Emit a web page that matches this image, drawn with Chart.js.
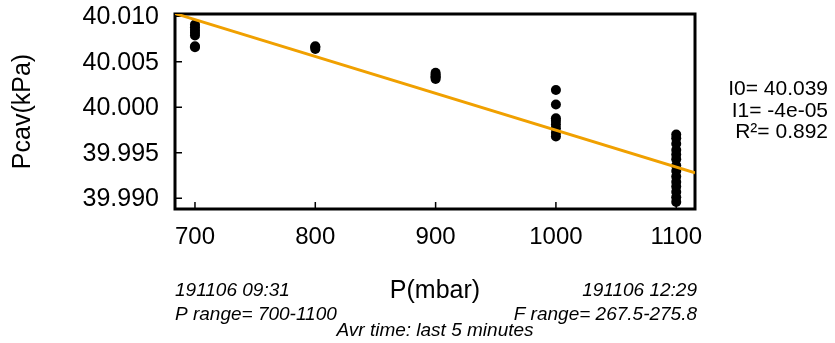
<!DOCTYPE html>
<html><head><meta charset="utf-8">
<script src="https://cdn.jsdelivr.net/npm/chart.js@4"></script>
<style>html,body{margin:0;padding:0;background:#fff}#wrap{width:835px;height:343px}</style>
</head><body><div id="wrap"><canvas id="c" width="835" height="343"></canvas></div>
<script>
// ---- data ----
const pressures = [700, 800, 900, 1000, 1100];
const pcav700 = [40.0091, 40.0088, 40.0085, 40.0082, 40.0079, 40.0067, 40.0066];
const pcav800 = [40.0067, 40.0066, 40.0064];
const pcav900 = [40.0038, 40.0036, 40.0034, 40.0033, 40.0031];
const pcav1000 = [40.0019, 40.0003, 39.9988, 39.9985, 39.9981, 39.9977, 39.9972, 39.9968];
const pcav1100 = [39.9970, 39.9966, 39.9960, 39.9953, 39.9948, 39.9943, 39.9936, 39.9930, 39.9924, 39.9918, 39.9913, 39.9907, 39.9901, 39.9896];
const fitP = [683.4, 1115.6];
const fitPcav = [40.0103, 39.9928];
const xTickValues = [700, 800, 900, 1000, 1100];
const xTickLabels = ['700', '800', '900', '1000', '1100'];
const yTickValues = [39.990, 39.995, 40.000, 40.005, 40.010];
const yTickLabels = ['39.990', '39.995', '40.000', '40.005', '40.010'];
const xTitle = 'P(mbar)';
const yTitle = 'Pcav(kPa)';
const statLines = ['I0= 40.039', 'I1= -4e-05', 'R\u00B2= 0.892'];
const noteLeft = ['191106 09:31', 'P range= 700-1100'];
const noteRight = ['191106 12:29', 'F range= 267.5-275.8'];
const noteCenter = 'Avr time: last 5 minutes';

// ---- build ----
const FONT = "'Liberation Sans', Arial, sans-serif";
const groups = [pcav700, pcav800, pcav900, pcav1000, pcav1100];
const points = [];
groups.forEach((g, i) => g.forEach(v => points.push({x: pressures[i], y: v})));
const fitLine = fitP.map((p, i) => ({x: p, y: fitPcav[i]}));

const framePlugin = {
  id: 'frame',
  beforeDatasetsDraw(chart) {
    const {ctx, chartArea: a, scales: {x, y}} = chart;
    ctx.save();
    ctx.strokeStyle = '#000';
    ctx.lineWidth = 1.5;
    ctx.beginPath();
    x.ticks.forEach(t => { const px = x.getPixelForValue(t.value); ctx.moveTo(px, a.bottom); ctx.lineTo(px, a.bottom - 7); });
    y.ticks.forEach(t => { const py = y.getPixelForValue(t.value); ctx.moveTo(a.left, py); ctx.lineTo(a.left + 7, py); });
    ctx.stroke();
    ctx.lineWidth = 3;
    ctx.strokeRect(a.left, a.top, a.right - a.left, a.bottom - a.top);
    ctx.restore();
  },
  afterDraw(chart) {
    const {ctx, chartArea: a} = chart;
    ctx.save();
    ctx.fillStyle = '#000';
    ctx.textBaseline = 'alphabetic';
    ctx.font = 'italic 19px ' + FONT;
    ctx.textAlign = 'left';
    ctx.fillText(noteLeft[0], a.left, 296);
    ctx.fillText(noteLeft[1], a.left, 320);
    ctx.textAlign = 'right';
    ctx.fillText(noteRight[0], a.right + 2, 296);
    ctx.fillText(noteRight[1], a.right + 2, 320);
    ctx.textAlign = 'center';
    ctx.fillText(noteCenter, (a.left + a.right) / 2, 336);
    ctx.font = '21px ' + FONT;
    ctx.textAlign = 'right';
    statLines.forEach((s, i) => ctx.fillText(s, 828, 95 + i * 21.5));
    ctx.restore();
  }
};

new Chart(document.getElementById('c'), {
  type: 'scatter',
  data: {
    datasets: [
      {type: 'line', data: fitLine, borderColor: '#F0A000', borderWidth: 3, pointRadius: 0, fill: false, order: 0},
      {type: 'scatter', data: points, backgroundColor: '#000', borderColor: '#000', borderWidth: 0, pointRadius: 5, order: 1}
    ]
  },
  options: {
    responsive: false,
    animation: false,
    devicePixelRatio: 1,
    layout: {padding: {left: 0, right: 140, top: 14, bottom: 0}},
    plugins: {legend: {display: false}, tooltip: {enabled: false}},
    scales: {
      x: {
        type: 'linear', min: 683.4, max: 1115.6,
        grid: {display: false, drawTicks: false},
        border: {display: false},
        afterBuildTicks: s => { s.ticks = xTickValues.map(v => ({value: v})); },
        afterFit: s => { s.height = 134; s.paddingLeft = 0; s.paddingRight = 0; },
        ticks: {font: {family: FONT, size: 24}, color: '#000', padding: 14, maxRotation: 0, autoSkip: false,
                callback: (v, i) => xTickLabels[i]},
        title: {display: true, text: xTitle, color: '#000', font: {family: FONT, size: 25}, padding: {top: 0, bottom: 37}}
      },
      y: {
        type: 'linear', min: 39.98882, max: 40.01025,
        grid: {display: false, drawTicks: false},
        border: {display: false},
        afterBuildTicks: s => { s.ticks = yTickValues.map(v => ({value: v})); },
        afterFit: s => { s.width = 175; s.paddingTop = 0; s.paddingBottom = 0; },
        ticks: {font: {family: FONT, size: 25}, color: '#000', padding: 16, labelOffset: 1, autoSkip: false,
                callback: (v, i) => yTickLabels[i]},
        title: {display: true, text: yTitle, color: '#000', font: {family: FONT, size: 25}, padding: {top: 8, bottom: 0}}
      }
    }
  },
  plugins: [framePlugin]
});
</script>
</body></html>
